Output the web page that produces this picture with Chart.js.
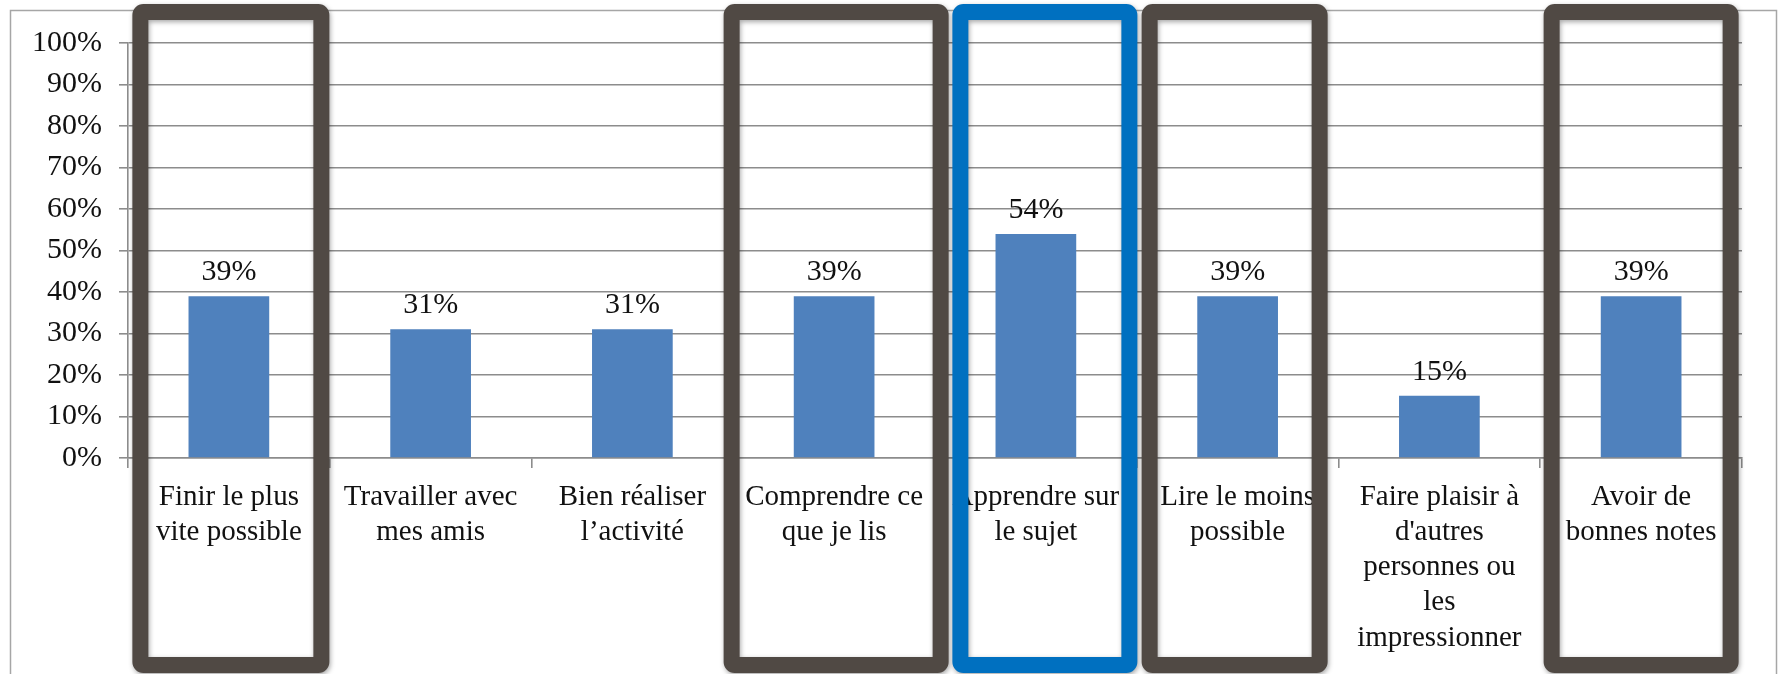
<!DOCTYPE html>
<html>
<head>
<meta charset="utf-8">
<script src="https://cdn.jsdelivr.net/npm/chart.js@4/dist/chart.umd.min.js"></script>
<style>
  html, body { margin: 0; padding: 0; background: #fff; }
  canvas { display: block; }
</style>
</head>
<body>
<canvas id="chart" width="1779" height="674"></canvas>
<script>
const categories = [
  ['Finir le plus', 'vite possible'],
  ['Travailler avec', 'mes amis'],
  ['Bien réaliser', 'l’activité'],
  ['Comprendre ce', 'que je lis'],
  ['Apprendre sur', 'le sujet'],
  ['Lire le moins', 'possible'],
  ['Faire plaisir à', "d'autres", 'personnes ou', 'les', 'impressionner'],
  ['Avoir de', 'bonnes notes'],
];
const values = [39, 31, 31, 39, 54, 39, 15, 39];
const yTicks = [0, 10, 20, 30, 40, 50, 60, 70, 80, 90, 100];

const FONT = "'Liberation Serif', 'Times New Roman', serif";
const TEXT = '#111';
const GRID = '#8c8c8c';
const DARK = '#504944';
const BLUE = '#0070C0';

// hand-drawn highlight frames, placed relative to their category centre
const frames = [
  { cat: 0, dx: 2, w: 181, color: DARK },
  { cat: 3, dx: 2, w: 209, color: DARK },
  { cat: 4, dx: 9, w: 169, color: BLUE },
  { cat: 5, dx: -3, w: 170, color: DARK },
  { cat: 7, dx: 0, w: 179, color: DARK },
];

// --- plugins ---

const outerFrame = {
  id: 'outerFrame',
  beforeDraw(chart) {
    const ctx = chart.ctx;
    ctx.save();
    ctx.fillStyle = '#fff';
    ctx.fillRect(0, 0, chart.width, chart.height);
    ctx.strokeStyle = '#a6a6a6';
    ctx.lineWidth = 1.5;
    ctx.strokeRect(10.5, 10.5, 1766, 700);
    ctx.restore();
  },
};

const barLabels = {
  id: 'barLabels',
  afterDatasetsDraw(chart) {
    const ctx = chart.ctx;
    const meta = chart.getDatasetMeta(0);
    ctx.save();
    ctx.font = `30px ${FONT}`;
    ctx.fillStyle = TEXT;
    ctx.textAlign = 'center';
    ctx.textBaseline = 'alphabetic';
    meta.data.forEach((bar, i) => {
      ctx.fillText(values[i] + '%', bar.x, bar.y - 16);
    });
    ctx.restore();
  },
};

const highlightFrames = {
  id: 'highlightFrames',
  afterDraw(chart) {
    const { ctx, chartArea, scales } = chart;
    const top = chartArea.top - 31;
    const bottom = chartArea.bottom + 207;
    ctx.save();
    ctx.lineWidth = 16;
    ctx.lineJoin = 'round';
    ctx.shadowColor = 'rgba(0,0,0,0.35)';
    ctx.shadowBlur = 5;
    ctx.shadowOffsetX = 1;
    ctx.shadowOffsetY = 2;
    for (const f of frames) {
      const cx = scales.x.getPixelForValue(f.cat) + f.dx;
      ctx.strokeStyle = f.color;
      ctx.beginPath();
      ctx.roundRect(cx - f.w / 2, top, f.w, bottom - top, 3);
      ctx.stroke();
    }
    ctx.restore();
  },
};

// --- chart ---

new Chart(document.getElementById('chart'), {
  type: 'bar',
  data: {
    labels: categories,
    datasets: [{
      data: values,
      backgroundColor: '#4F81BD',
      categoryPercentage: 1,
      barPercentage: 0.4,
    }],
  },
  options: {
    responsive: false,
    animation: false,
    devicePixelRatio: 1,
    layout: { padding: { top: 43, right: 37, left: 0, bottom: 0 } },
    plugins: { legend: { display: false }, tooltip: { enabled: false } },
    scales: {
      x: {
        offset: true,
        grid: { offset: true, drawOnChartArea: false, drawTicks: true, tickLength: 10, color: GRID, lineWidth: 1.6 },
        border: { display: true, color: GRID, width: 1.6 },
        ticks: {
          autoSkip: false, maxRotation: 0, minRotation: 0, padding: 12,
          color: TEXT, font: { family: FONT, size: 29, lineHeight: 1.21 },
        },
        afterFit(scale) { scale.height = 216; },
      },
      y: {
        min: 0,
        max: 100,
        afterBuildTicks(scale) { scale.ticks = yTicks.map(v => ({ value: v })); },
        grid: { color: GRID, lineWidth: 1.6, tickLength: 9 },
        border: { display: true, color: GRID, width: 1.6 },
        ticks: {
          padding: 17, color: TEXT,
          font: { family: FONT, size: 30 },
          callback: v => v + '%',
        },
        afterFit(scale) { scale.width = 128; },
      },
    },
  },
  plugins: [outerFrame, barLabels, highlightFrames],
});
</script>
</body>
</html>
